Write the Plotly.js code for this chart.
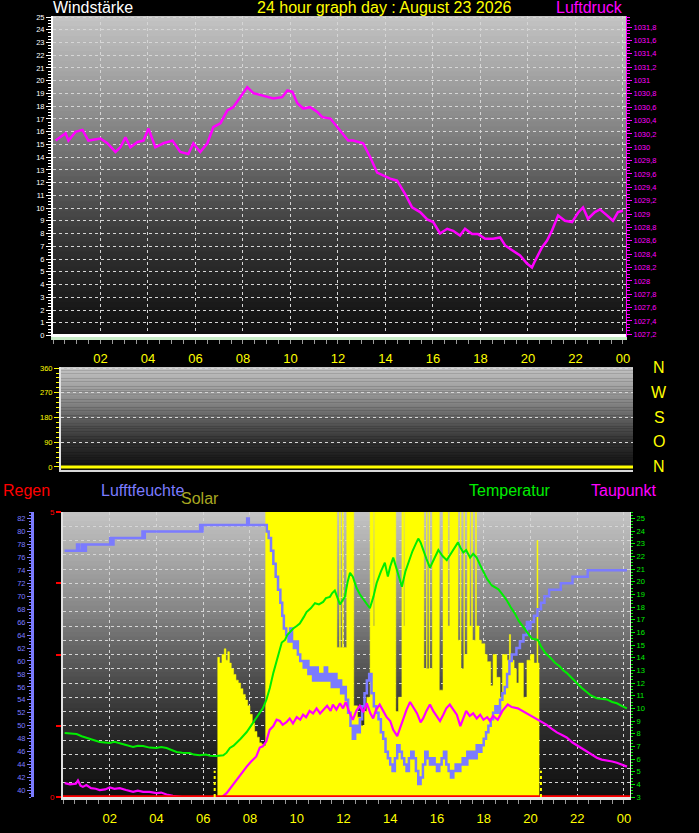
<!DOCTYPE html>
<html><head><meta charset="utf-8">
<script src="https://cdn.plot.ly/plotly-3.0.1.min.js"></script>
<style>html,body{margin:0;padding:0;background:#000;}#chart{width:699px;height:833px;}</style>
</head><body><div id="chart"></div>
<script>
// ---------- DATA ----------
const hourTicks = [2,4,6,8,10,12,14,16,18,20,22,24];
const hourLabels = ['02','04','06','08','10','12','14','16','18','20','22','00'];
const pressTicks = [1027.2,1027.4,1027.6,1027.8,1028,1028.2,1028.4,1028.6,1028.8,1029,1029.2,1029.4,1029.6,1029.8,1030,1030.2,1030.4,1030.6,1030.8,1031,1031.2,1031.4,1031.6,1031.8];
const windTicks = [0,90,180,270,360];
const rainTicks = [0,1.25,2.5,3.75,5];
const rainLabels = ['0','','','','5'];
const compassLabels = ['N','W','S','O','N'];

const pressTimes = [0.11,0.53,0.65,0.95,1.24,1.49,2.00,2.29,2.63,2.84,3.05,3.26,3.56,3.81,4.02,4.31,4.65,5.03,5.36,5.70,5.91,6.20,6.50,6.75,7.05,7.34,7.59,7.89,8.18,8.44,8.73,9.02,9.28,9.65,9.87,10.08,10.29,10.54,10.83,11.13,11.34,11.68,11.97,12.22,12.43,12.64,13.06,13.36,13.65,13.90,14.20,14.49,14.83,15.12,15.46,15.76,16.01,16.30,16.60,16.85,17.14,17.35,17.65,17.90,18.20,18.53,18.83,19.04,19.37,19.67,19.96,20.17,20.30,20.59,20.80,21.01,21.27,21.56,21.86,22.11,22.32,22.53,22.82,23.03,23.33,23.58,23.79,24.00];
const pressValues = [1030.10,1030.21,1030.10,1030.23,1030.26,1030.10,1030.13,1030.06,1029.93,1030.00,1030.15,1030.00,1030.08,1030.10,1030.28,1030.00,1030.06,1030.10,1029.93,1029.90,1030.06,1029.93,1030.06,1030.30,1030.36,1030.55,1030.60,1030.75,1030.90,1030.81,1030.78,1030.75,1030.73,1030.75,1030.85,1030.83,1030.66,1030.58,1030.60,1030.53,1030.45,1030.43,1030.30,1030.20,1030.10,1030.10,1030.06,1029.85,1029.62,1029.58,1029.53,1029.50,1029.30,1029.10,1029.03,1028.92,1028.88,1028.71,1028.78,1028.75,1028.68,1028.78,1028.70,1028.70,1028.63,1028.63,1028.65,1028.53,1028.45,1028.38,1028.26,1028.20,1028.30,1028.50,1028.60,1028.75,1028.98,1028.90,1028.88,1029.02,1029.10,1028.93,1029.03,1029.07,1028.98,1028.90,1029.03,1029.05];

const windTimes = [0, 24.13];
const windSpeed = [0, 0];
const windDir = [0, 0];

const humTimes = [0.07,0.6,0.7,0.82,0.9,0.98,2.02,2.1,2.16,3.4,3.45,3.5,5.87,5.92,5.97,7.88,7.95,8.72,8.8,8.9,9.0,9.1,9.2,9.3,9.38,9.45,9.55,9.65,9.72,9.8,9.88,9.95,10.05,10.15,10.3,10.4,10.5,10.6,10.7,10.8,10.9,11.0,11.1,11.2,11.3,11.4,11.5,11.6,11.7,11.8,11.9,12.0,12.1,12.2,12.3,12.4,12.5,12.6,12.7,12.8,12.9,13.0,13.1,13.2,13.3,13.4,13.5,13.6,13.7,13.8,13.9,14.0,14.1,14.2,14.3,14.4,14.5,14.6,14.7,14.8,14.9,15.0,15.1,15.2,15.3,15.4,15.5,15.6,15.7,15.8,15.9,16.0,16.1,16.2,16.3,16.4,16.5,16.6,16.7,16.8,16.9,17.0,17.1,17.2,17.3,17.4,17.5,17.6,17.7,17.8,17.9,18.0,18.1,18.2,18.3,18.4,18.5,18.6,18.7,18.8,18.9,19.0,19.1,19.2,19.3,19.4,19.55,19.7,19.85,19.95,20.0,20.15,20.3,20.45,20.6,20.8,21.3,21.8,22.45,24.13];
const humValues = [77,78,77,78,77,78,79,78,79,80,79,80,81,80,81,82,81,80,79,77,75,73,71,69,67,65,64,63,65,63,62,63,61,60,59,60,58,59,57,59,57,58,57,59,57,58,56,58,56,57,55,56,54,52,50,48,50,49,51,53,55,57,58,55,53,52,51,49,48,46,45,44,43,45,47,46,45,44,43,45,46,45,43,41,42,44,46,45,44,45,44,43,44,45,46,44,43,42,43,44,43,44,45,44,46,45,46,45,47,46,47,48,49,50,51,52,53,52,54,55,56,58,60,61,61,62,63,64,66,65,66,67,68,69,70,71,72,73,74,74];

const tempTimes = [0.07,0.3,0.58,0.8,1.0,1.3,1.57,2.0,2.2,2.43,2.7,3.0,3.2,3.43,3.7,4.0,4.2,4.43,4.65,4.86,5.1,5.42,5.6,5.85,6.1,6.3,6.57,6.86,7.0,7.14,7.3,7.43,7.6,7.86,8.0,8.13,8.3,8.42,8.55,8.7,8.85,9.0,9.14,9.25,9.36,9.5,9.6,9.7,9.85,10.0,10.13,10.3,10.42,10.6,10.78,10.95,11.13,11.25,11.42,11.52,11.63,11.75,11.85,11.95,12.06,12.18,12.28,12.4,12.56,12.7,12.85,13.0,13.13,13.28,13.42,13.6,13.77,13.9,14.0,14.13,14.3,14.5,14.65,14.77,14.95,15.1,15.2,15.3,15.4,15.55,15.7,15.9,16.06,16.25,16.42,16.56,16.75,16.9,17.0,17.13,17.25,17.42,17.55,17.7,17.85,17.99,18.15,18.35,18.5,18.63,18.8,19.0,19.15,19.33,19.5,19.7,19.9,20.06,20.2,20.32,20.45,20.62,20.85,21.05,21.26,21.4,21.55,21.8,21.98,22.2,22.4,22.6,22.84,23.05,23.27,23.5,23.7,23.9,24.13];
const tempValues = [8.05,8.0,7.97,7.8,7.66,7.5,7.34,7.26,7.35,7.26,7.1,6.95,7.05,7.03,6.9,6.87,6.95,6.87,6.7,6.55,6.5,6.47,6.35,6.3,6.35,6.25,6.24,6.3,6.5,6.87,7.05,7.26,7.6,8.13,8.5,8.92,9.3,9.63,10.0,10.66,11.6,12.8,13.8,14.5,15.2,15.4,15.8,16.0,16.3,16.5,16.7,17.2,17.6,17.9,18.3,18.2,18.4,18.7,18.8,19.1,19.3,18.7,18.2,18.5,18.8,20.0,20.7,20.4,19.5,19.0,18.6,18.2,17.9,18.8,19.9,20.8,21.5,20.4,21.2,21.9,20.8,19.6,20.8,21.5,22.4,23.0,23.4,23.1,22.5,21.8,21.1,21.9,22.5,22.0,21.7,22.1,22.7,23.1,22.7,22.3,22.5,21.9,22.2,21.9,21.3,20.8,20.2,19.7,19.5,19.4,19.0,18.5,18.0,17.5,16.9,16.4,15.9,15.5,15.45,15.4,14.9,14.4,14.0,13.6,13.3,13.0,12.8,12.3,12.0,11.6,11.3,11.0,10.8,10.75,10.7,10.5,10.4,10.2,10.0];

const dewTimes = [0.07,0.3,0.55,0.64,0.75,0.85,1.0,1.2,1.4,1.57,1.8,2.0,2.2,2.43,2.7,3.0,3.2,3.43,3.7,4.0,4.2,4.43,4.7,4.86,5.1,5.42,5.7,6.0,6.3,6.57,6.8,7.0,7.2,7.43,7.6,7.86,8.05,8.27,8.42,8.55,8.7,8.84,9.0,9.14,9.28,9.4,9.56,9.7,9.84,10.0,10.15,10.27,10.4,10.55,10.7,10.85,11.0,11.13,11.3,11.45,11.55,11.7,11.85,11.98,12.1,12.25,12.4,12.55,12.7,12.85,13.0,13.15,13.27,13.4,13.55,13.7,13.85,14.0,14.13,14.3,14.45,14.56,14.7,14.85,15.0,15.15,15.3,15.41,15.55,15.7,15.84,16.0,16.13,16.27,16.4,16.55,16.7,16.85,17.0,17.13,17.25,17.4,17.55,17.7,17.85,17.99,18.15,18.27,18.4,18.6,18.8,19.03,19.2,19.46,19.65,19.84,20.05,20.27,20.5,20.7,20.9,21.13,21.35,21.55,21.8,21.98,22.2,22.4,22.6,22.84,23.05,23.27,23.5,23.7,23.9,24.13];
const dewValues = [4.1,4.0,4.05,4.3,3.9,3.8,3.95,3.7,3.65,3.55,3.6,3.75,3.65,3.7,3.55,3.4,3.5,3.4,3.4,3.3,3.35,3.2,3.1,3.05,3.0,2.95,2.9,2.95,2.85,2.9,3.0,3.3,3.8,4.3,4.7,5.4,5.8,6.2,6.9,7.0,7.4,8.3,8.6,9.1,9.0,8.7,8.9,9.2,8.8,9.3,9.1,9.5,9.3,9.8,9.6,10.0,9.6,9.9,10.2,9.8,10.3,9.9,10.4,10.0,10.5,9.7,9.1,9.8,10.2,9.7,10.4,9.6,9.2,9.9,10.3,9.8,9.3,9.0,8.3,7.8,8.6,9.3,9.9,10.5,10.1,9.6,8.9,9.2,9.8,10.3,9.8,9.4,9.0,9.5,10.0,10.3,9.9,9.5,8.6,9.3,9.8,9.4,9.6,9.2,9.5,9.1,9.3,9.0,9.4,9.1,9.8,10.3,10.1,10.0,9.8,9.6,9.4,9.2,8.9,8.7,8.4,8.1,7.9,7.7,7.3,7.1,6.85,6.6,6.35,6.1,5.95,5.9,5.8,5.7,5.55,5.4];

const solarTimes = [0,6.62,6.7,6.8,6.9,6.97,7.05,7.12,7.2,7.3,7.4,7.5,7.6,7.7,7.8,7.9,8.0,8.1,8.2,8.3,8.4,8.5,8.6,8.67,11.72,11.83,11.87,11.95,11.99,12.14,12.44,12.6,12.75,12.9,13.0,13.14,13.28,13.33,14.24,14.35,14.5,14.58,14.62,15.44,15.55,15.58,15.66,15.69,15.8,16.1,16.26,16.47,16.55,16.9,17.0,17.03,17.15,17.18,17.3,17.4,17.48,17.52,17.65,17.69,17.8,17.9,18.05,18.15,18.3,18.4,18.55,18.7,18.8,19.0,19.1,19.15,19.3,19.4,19.5,19.7,19.85,20.0,20.15,20.28,20.32,20.37,24.26];
const solarValues = [0,392,376,400,416,384,408,376,360,344,328,320,304,288,272,256,232,208,184,168,152,148,144,850,420,850,420,850,420,850,256,224,200,240,280,850,480,850,240,280,850,480,850,360,850,360,850,360,850,300,850,480,850,440,850,360,850,400,850,480,850,440,850,480,440,430,400,380,312,400,336,280,400,384,456,384,360,320,376,280,384,400,376,720,376,0,0];

const rainTimes = [0, 24.26];
const rainValues = [0, 0];
const sunTimes = [6.49, 20.45];

// ---------- HELPERS (layout only) ----------
const W = 699, H = 833;
const px = p => p / W;
const py = p => (H - p) / H;
const GRID = '#d6d6d6';

function grayAt(f) {
  const stops = [[0,196],[0.1,178],[0.26,150],[0.36,130],[0.5,95],[0.73,48],[0.9,26],[1,15]];
  for (let i = 1; i < stops.length; i++) {
    if (f <= stops[i][0]) {
      const a = stops[i-1], b = stops[i];
      const t = (f - a[0]) / (b[0] - a[0]);
      return Math.round(a[1] + t * (b[1] - a[1]));
    }
  }
  return 15;
}
function bands(xr, yr) {
  const n = 64, out = [];
  for (let i = 0; i < n; i++) {
    const g = grayAt((i + 0.5) / n);
    out.push({type:'rect', xref: xr + ' domain', yref: yr + ' domain', x0:0, x1:1,
      y0: 1 - (i + 1) / n - 0.003, y1: 1 - i / n, fillcolor: `rgb(${g},${g},${g})`,
      line:{width:0}, layer:'below'});
  }
  return out;
}

const shapes = [].concat(bands('x','y'), bands('x2','y3'), bands('x3','y4'));
sunTimes.forEach(t => shapes.push({type:'line', xref:'x3', yref:'y4 domain', x0:t, x1:t, y0:0, y1:0.092,
  line:{color:'#ffff00', width:2, dash:'dot'}, layer:'above'}));

const FONT = 'Liberation Sans, Arial, sans-serif';
const traces = [
  {x: windTimes, y: windSpeed, xaxis:'x', yaxis:'y', mode:'lines', line:{color:'#ffffff', width:3}, hoverinfo:'skip'},
  {x: pressTimes, y: pressValues, xaxis:'x', yaxis:'y2', mode:'lines', line:{color:'#ff00ff', width:2.5}, hoverinfo:'skip'},
  {x: windTimes, y: windDir, xaxis:'x2', yaxis:'y3', mode:'lines', line:{color:'#ffff00', width:3}, hoverinfo:'skip'},
  {x: solarTimes, y: solarValues, xaxis:'x3', yaxis:'y4', mode:'lines', line:{color:'#ffff00', width:0.5, shape:'hv'}, fill:'tozeroy', fillcolor:'#ffff00', hoverinfo:'skip'},
  {x: humTimes, y: humValues, xaxis:'x3', yaxis:'y5', mode:'lines', line:{color:'#7b7bff', width:2.5, shape:'hv'}, hoverinfo:'skip'},
  {x: tempTimes, y: tempValues, xaxis:'x3', yaxis:'y6', mode:'lines', line:{color:'#00ee00', width:2}, hoverinfo:'skip'},
  {x: dewTimes, y: dewValues, xaxis:'x3', yaxis:'y6', mode:'lines', line:{color:'#ff00ff', width:2.2}, hoverinfo:'skip'},
  {x: rainTimes, y: rainValues, xaxis:'x3', yaxis:'y7', mode:'lines', line:{color:'#ff0000', width:3.5}, hoverinfo:'skip'}
];

const xBase = {
  tickmode:'array', tickvals: hourTicks, ticktext: hourLabels,
  tickfont:{color:'#ffff00', size:13, family:FONT},
  ticks:'outside', ticklen:4, tickcolor:'#9a9a9a',
  minor:{tickmode:'linear', tick0:0, dtick:0.5, ticks:'outside', ticklen:4, tickcolor:'#9a9a9a'},
  showgrid:true, gridcolor:GRID, griddash:'dot', gridwidth:1,
  showline:true, linewidth:3, zeroline:false, fixedrange:true, ticklabelstandoff:3
};

const ann = [];
function txt(text, x, y, color, xanchor, size) {
  ann.push({text, x: px(x), y: py(y), xref:'paper', yref:'paper', xanchor, yanchor:'middle',
    showarrow:false, font:{color, size: size || 16, family:FONT}});
}
txt('Windstärke', 51, 8, '#ffffff', 'left');
txt('24 hour graph day : August 23 2026', 384, 8, '#ffff00', 'center');
txt('Luftdruck', 625, 8, '#ff00ff', 'right');
const compassY = [367, 392, 417, 442, 466];
compassLabels.forEach((c, i) => txt(c, 659, compassY[i], '#ffff00', 'center'));
txt('Regen', 1, 490, '#ff0000', 'left');
txt('Lufftfeuchte', 99, 490, '#7b7bff', 'left');
txt('Solar', 179, 498, '#a8a820', 'left');
txt('Temperatur', 467, 490, '#00ee00', 'left');
txt('Taupunkt', 589, 490, '#ff00ff', 'left');

const SMALL = 7.5;
const layout = {
  width: W, height: H, margin:{l:0, r:0, t:0, b:0}, autosize:false,
  paper_bgcolor:'#000000', plot_bgcolor:'#000000', showlegend:false,
  font:{family:FONT}, separators:',.',
  xaxis: Object.assign({}, xBase, {domain:[px(53), px(626)], range:[0, 24.13], anchor:'y', linecolor:'#c8ecc8'}),
  yaxis: {domain:[py(337), py(16)], range:[-0.118, 25.08], anchor:'x', tickmode:'linear', tick0:0, dtick:1,
    tickfont:{color:'#ffffff', size:SMALL}, ticks:'outside', ticklen:5, tickcolor:'#ffffff',
    minor:{tickmode:'linear', tick0:0, dtick:0.25, ticks:'outside', ticklen:3, tickcolor:'#ffffff'},
    showgrid:true, gridcolor:GRID, griddash:'dot', showline:true, linecolor:'#ffffff', linewidth:2, zeroline:false, fixedrange:true},
  yaxis2: {overlaying:'y', side:'right', anchor:'x', range:[1027.16, 1031.965],
    tickmode:'array', tickvals: pressTicks, ticktext: pressTicks.map(v => String(v).replace('.', ',')),
    tickfont:{color:'#ff00ff', size:SMALL}, ticks:'outside', ticklen:5, tickcolor:'#ff00ff',
    minor:{tickmode:'linear', tick0:1027.2, dtick:0.05, ticks:'outside', ticklen:3, tickcolor:'#ff00ff'},
    showgrid:false, showline:true, linecolor:'#ff00ff', linewidth:1, zeroline:false, fixedrange:true},
  xaxis2: {domain:[px(61), px(633)], range:[0, 24.13], anchor:'y3', showticklabels:false, ticks:'',
    showgrid:false, showline:true, linecolor:'#d8d8d8', linewidth:2, zeroline:false, fixedrange:true},
  yaxis3: {domain:[py(470), py(367)], range:[-11, 364], anchor:'x2', tickmode:'array', tickvals: windTicks,
    tickfont:{color:'#ffff00', size:SMALL}, ticks:'outside', ticklen:5, tickcolor:'#ffff00',
    minor:{tickmode:'linear', tick0:0, dtick:18, ticks:'outside', ticklen:3, tickcolor:'#ffff00'},
    showgrid:true, gridcolor:GRID, griddash:'dot', showline:true, linecolor:'#e0e0e0', linewidth:2, zeroline:false, fixedrange:true},
  xaxis3: Object.assign({}, xBase, {domain:[px(63), px(630)], range:[0, 24.26], anchor:'y4', linecolor:'#e8e8e8'}),
  yaxis4: {domain:[py(797), py(512)], range:[0, 800], anchor:'x3', visible:false, fixedrange:true},
  yaxis5: {overlaying:'y4', anchor:'free', position: px(32), side:'left', range:[39, 83], tickmode:'linear', tick0:40, dtick:2,
    tickfont:{color:'#7b7bff', size:SMALL}, ticks:'outside', ticklen:4, tickcolor:'#7b7bff',
    minor:{tickmode:'linear', tick0:40, dtick:0.5, ticks:'outside', ticklen:2, tickcolor:'#7b7bff'},
    showgrid:false, showline:true, linecolor:'#7b7bff', linewidth:3, zeroline:false, fixedrange:true},
  yaxis6: {overlaying:'y4', side:'right', anchor:'x3', range:[3, 25.5], tickmode:'linear', tick0:3, dtick:1,
    tickfont:{color:'#00ee00', size:SMALL}, ticks:'outside', ticklen:4, tickcolor:'#00ee00',
    minor:{tickmode:'linear', tick0:3, dtick:0.25, ticks:'outside', ticklen:2, tickcolor:'#00ee00'},
    showgrid:false, showline:true, linecolor:'#e0e0e0', linewidth:1, zeroline:false, fixedrange:true},
  yaxis7: {overlaying:'y4', side:'left', anchor:'x3', range:[0, 5], tickmode:'array', tickvals: rainTicks, ticktext: rainLabels,
    tickfont:{color:'#ff0000', size:8}, ticks:'outside', ticklen:5, tickwidth:2, tickcolor:'#ff0000',
    showgrid:true, gridcolor:GRID, griddash:'dot',
    minor:{tickmode:'linear', tick0:0, dtick:0.25, ticks:'', showgrid:true, gridcolor:GRID, griddash:'dot'},
    showline:true, linecolor:'#e0e0e0', linewidth:2, zeroline:false, fixedrange:true},
  shapes, annotations: ann
};

Plotly.newPlot('chart', traces, layout, {staticPlot:true, displayModeBar:false});
</script></body></html>
